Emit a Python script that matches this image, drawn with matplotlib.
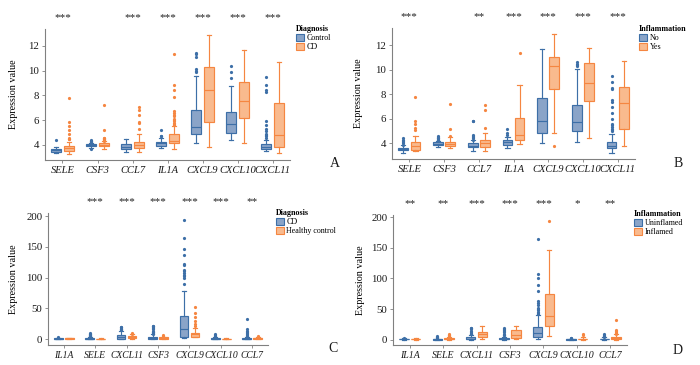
import matplotlib
matplotlib.use('Agg')
import matplotlib.pyplot as plt
from matplotlib.patches import Patch

plt.rcParams['font.family'] = ['Liberation Serif', 'DejaVu Serif']

# ---------------- data (lo, q1, median, q3, hi) ----------------
A_genes = ['SELE', 'CSF3', 'CCL7', 'IL1A', 'CXCL9', 'CXCL10', 'CXCL11']
A_groups = ['Control', 'CD']
A_sig = ['***', '', '***', '***', '***', '***', '***']
A_g1_stats = [(3.33, 3.46, 3.57, 3.68, 3.87), (3.75, 3.93, 3.98, 4.05, 4.2),
              (3.4, 3.66, 3.87, 4.05, 4.47), (3.74, 3.95, 4.13, 4.27, 4.56),
              (4.13, 4.86, 5.48, 6.82, 9.56), (4.4, 4.99, 5.66, 6.68, 8.75),
              (3.52, 3.68, 3.87, 4.05, 4.4)]
A_g1_out = [[4.4], [4.25, 4.3, 4.35, 4.4, 3.7], [], [4.7, 4.75, 5.2],
            [9.9, 10.0, 10.1, 11.1, 11.3, 11.45], [9.4, 9.9, 10.4],
            [4.6, 4.7, 4.8, 4.9, 5.1, 5.3, 5.6, 5.9, 8.25, 8.45, 8.85, 9.5]]
A_g2_stats = [(3.28, 3.54, 3.76, 3.92, 4.27), (3.7, 3.9, 4.0, 4.17, 4.3),
              (3.47, 3.74, 3.97, 4.21, 4.88), (3.7, 4.13, 4.3, 4.86, 5.5),
              (3.87, 5.83, 8.43, 10.25, 12.86), (4.2, 6.15, 7.54, 9.1, 11.65),
              (3.38, 3.87, 4.8, 7.35, 10.66)]
A_g2_out = [[4.45, 4.5, 4.6, 4.9, 5.2, 5.55, 5.85, 7.8],
            [4.35, 4.4, 4.45, 4.5, 4.55, 4.6, 5.2, 7.2],
            [5.25, 5.8, 5.85, 6.4, 6.85, 7.1],
            [5.6, 5.7, 5.8, 5.9, 6.0, 6.1, 6.3, 6.4, 6.6, 6.7, 7.9, 8.4, 8.8, 11.35],
            [], [], []]

B_genes = ['SELE', 'CSF3', 'CCL7', 'IL1A', 'CXCL9', 'CXCL10', 'CXCL11']
B_groups = ['No', 'Yes']
B_sig = ['***', '', '**', '***', '***', '***', '***']
B_g1_stats = [(3.18, 3.43, 3.54, 3.65, 3.86), (3.7, 3.84, 3.95, 4.08, 4.2),
              (3.35, 3.67, 3.8, 4.0, 4.25), (3.6, 3.86, 4.08, 4.27, 4.54),
              (4.05, 4.87, 5.82, 7.67, 11.67), (4.1, 5.03, 5.77, 7.1, 10.04),
              (3.25, 3.6, 3.8, 4.14, 4.8)]
B_g1_out = [[3.9, 4.0, 4.1, 4.2, 4.3, 4.4], [4.25, 4.3, 4.35, 4.4, 4.45, 4.5, 4.6],
            [4.3, 4.4, 4.5, 4.6, 4.7, 5.8, 5.85], [4.7, 4.85, 5.2], [],
            [10.3, 10.4, 10.5, 10.6],
            [5.0, 5.1, 5.2, 5.3, 5.5, 5.6, 6.0, 6.5, 7.0, 7.4, 7.5, 8.4, 8.5, 9.0, 9.5]]
B_g2_stats = [(3.35, 3.46, 3.78, 4.08, 4.6), (3.62, 3.78, 3.95, 4.1, 4.5),
              (3.35, 3.67, 4.0, 4.3, 4.82), (3.95, 4.27, 4.68, 6.1, 8.76),
              (4.87, 8.4, 10.31, 11.02, 12.9), (4.4, 7.46, 8.9, 10.53, 11.76),
              (3.78, 5.2, 7.32, 8.57, 10.72)]
B_g2_out = [[5.1, 5.25, 5.6, 5.85, 7.8], [4.6, 5.2, 7.2], [5.25, 6.7, 7.1], [11.35],
            [3.8], [], []]

C_genes = ['IL1A', 'SELE', 'CXCL11', 'CSF3', 'CXCL9', 'CXCL10', 'CCL7']
C_groups = ['CD', 'Healthy control']
C_sig = ['', '***', '***', '***', '***', '***', '**']
C_g1_stats = [(0, 0.5, 1.0, 1.5, 2.5), (0, 0.5, 1.0, 1.5, 3), (0, 1, 4, 7, 14),
              (0, 1, 2, 4, 8), (2, 4.3, 16, 38, 79), (0, 0.5, 1, 2, 3.5),
              (0, 0.5, 1, 2, 4)]
C_g1_out = [[3], [4, 4.5, 5, 6, 7, 8, 9, 10], [15, 16, 17, 18, 19, 20],
            [9, 10, 11, 12, 14, 16, 18, 20, 21, 22],
            [90, 100, 102, 105, 108, 110, 112, 120, 122, 136, 146, 164, 193],
            [4, 5, 7, 9], [5, 6, 8, 10, 12, 14, 16, 32]]
C_g2_stats = [(0.3, 0.8, 1.2, 1.6, 2.5), (0.1, 0.3, 0.5, 0.8, 1.2), (0.5, 2, 3.5, 5, 8),
              (0.5, 1, 2, 3, 4), (2.7, 4.3, 7.6, 10.3, 17.4), (0.1, 0.3, 0.6, 1.0, 1.5),
              (0.2, 1, 1.8, 2.5, 4)]
C_g2_out = [[], [], [9, 10], [5, 6], [21, 25, 30, 36, 42, 53], [], [5]]

D_genes = ['IL1A', 'SELE', 'CXCL11', 'CSF3', 'CXCL9', 'CXCL10', 'CCL7']
D_groups = ['Uninflamed', 'Inflamed']
D_sig = ['**', '**', '***', '***', '***', '*', '**']
D_g1_stats = [(0, 0.5, 1, 1.5, 2.5), (0, 0.3, 0.6, 1, 2), (0, 1, 2, 4, 8),
              (0, 1, 1.5, 3, 5), (1, 4.3, 10.8, 20.6, 40.6), (0, 0.3, 0.7, 1.2, 2),
              (0, 0.5, 1, 2, 4)]
D_g1_out = [[3], [3.5, 4, 5, 6], [9, 10, 11, 13, 15, 17, 19, 20],
            [7, 8, 10, 12, 14, 16, 18, 20],
            [42, 44, 46, 48, 50, 52, 56, 60, 63, 80, 90, 100, 107, 164],
            [2.5, 3], [5, 6, 8, 10]]
D_g2_stats = [(0.2, 0.6, 1.1, 1.6, 2.5), (0, 0.5, 1.2, 2.5, 5), (1, 4.3, 9.2, 12.5, 21.7),
              (1, 2.7, 8.1, 15.2, 22.8), (5.4, 21.7, 39, 74.8, 146), (0, 0.5, 1, 2, 5),
              (0, 1, 2.5, 5, 9)]
D_g2_out = [[], [6, 7, 8, 10], [], [], [194], [7, 9], [10, 11, 12, 14, 16, 32]]

# ---------------- style ----------------
BLUE_E, BLUE_F = '#3D6FA7', '#8AA4C8'
ORNG_E, ORNG_F = '#F58641', '#F9BA8E'
SPINE = '#808080'
W, OFF = 0.28, 0.175

fig = plt.figure(figsize=(7, 3.65), dpi=100)


def add_ax(l, r, t, b):
    return fig.add_axes([l / 700, 1 - b / 365, (r - l) / 700, (b - t) / 365])


def to_bxp(stats, outs):
    return [dict(whislo=s[0], q1=s[1], med=s[2], q3=s[3], whishi=s[4], fliers=o)
            for s, o in zip(stats, outs)]


def draw(box, genes, groups, sig, s1, o1, s2, o2, ylim, yticks, title,
         leg_xy, ylab_x, letter, letter_xy, xfs):
    ax = add_ax(*box)
    n = len(genes)
    for stats, outs, sh, ec, fc in [(s1, o1, -OFF, BLUE_E, BLUE_F),
                                    (s2, o2, OFF, ORNG_E, ORNG_F)]:
        ax.bxp(to_bxp(stats, outs), positions=[i + 1 + sh for i in range(n)],
               widths=W, capwidths=0.12, patch_artist=True, manage_ticks=False,
               boxprops=dict(facecolor=fc, edgecolor=ec, linewidth=0.85),
               medianprops=dict(color=ec, linewidth=0.85),
               whiskerprops=dict(color=ec, linewidth=0.85),
               capprops=dict(color=ec, linewidth=0.85),
               flierprops=dict(marker='o', markersize=2.3, markerfacecolor=ec,
                               markeredgecolor='none'))
    ax.set_xlim(0.5, n + 0.5)
    ax.set_ylim(*ylim)
    ax.set_xticks(range(1, n + 1))
    ax.set_xticklabels(genes, style='italic', fontsize=xfs)
    ax.set_yticks(yticks)
    ax.set_yticklabels([str(v) for v in yticks], fontsize=7.8)
    for sp in ['top', 'right']:
        ax.spines[sp].set_visible(False)
    for sp in ['left', 'bottom']:
        ax.spines[sp].set_color(SPINE)
        ax.spines[sp].set_linewidth(0.8)
    ax.tick_params(length=2.5, width=0.6, color=SPINE, pad=1.5, labelcolor='#1a1a1a')
    ax.set_ylabel('Expression value', fontsize=7.3)
    ax.yaxis.set_label_coords(ylab_x, 0.5)
    for i, s in enumerate(sig):
        if s:
            ax.annotate(s, xy=(i + 1, 1), xycoords=('data', 'axes fraction'),
                        xytext=(0, 8), textcoords='offset points',
                        ha='center', va='center', fontsize=8, color='#222222')
    handles = [Patch(facecolor=BLUE_F, edgecolor=BLUE_E, linewidth=0.8, label=groups[0]),
               Patch(facecolor=ORNG_F, edgecolor=ORNG_E, linewidth=0.8, label=groups[1])]
    ax.legend(handles=handles, title=title, loc='upper left',
              bbox_to_anchor=(leg_xy[0] / 700, 1 - leg_xy[1] / 365),
              bbox_transform=fig.transFigure, frameon=False, fontsize=5.8,
              title_fontproperties=dict(weight='bold', size=5.8),
              alignment='left', borderpad=0, borderaxespad=0,
              handlelength=1.0, handleheight=0.9, handletextpad=0.3,
              labelspacing=0.12)
    fig.text(letter_xy[0] / 700, 1 - letter_xy[1] / 365, letter, fontsize=10,
             ha='center', va='center', color='#1a1a1a')
    return ax


draw((45, 290, 29, 160), A_genes, A_groups, A_sig, A_g1_stats, A_g1_out,
     A_g2_stats, A_g2_out, (2.79, 13.35), [4, 6, 8, 10, 12], 'Diagnosis',
     (296, 25), -0.11, 'A', (335, 163), 7.6)
draw((392, 635, 28, 159), B_genes, B_groups, B_sig, B_g1_stats, B_g1_out,
     B_g2_stats, B_g2_out, (2.72, 13.41), [4, 6, 8, 10, 12], 'Inflammation',
     (639, 25), -0.12, 'B', (678, 163), 7.6)
draw((48, 268, 213, 345), C_genes, C_groups, C_sig, C_g1_stats, C_g1_out,
     C_g2_stats, C_g2_out, (-9.5, 205), [0, 50, 100, 150, 200], 'Diagnosis',
     (276, 209), -0.136, 'C', (333, 348), 6.9)
draw((393, 627, 215, 345), D_genes, D_groups, D_sig, D_g1_stats, D_g1_out,
     D_g2_stats, D_g2_out, (-8.5, 203.5), [0, 50, 100, 150, 200], 'Inflammation',
     (634, 210), -0.12, 'D', (678, 350), 7.1)

fig.savefig('out.png', dpi=100)
